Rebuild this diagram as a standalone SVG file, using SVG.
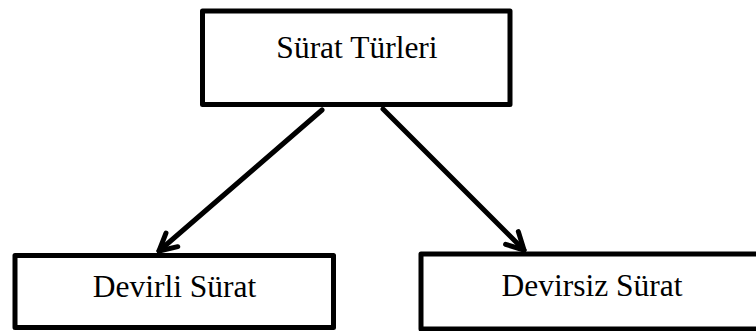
<svg xmlns="http://www.w3.org/2000/svg" width="756" height="331" viewBox="0 0 756 331">
  <defs>
    <style>
      .box { fill: #ffffff; stroke: #000000; stroke-width: 5; stroke-linejoin: round; }
      .lbl { font-family: "Liberation Serif", "Times New Roman", serif; font-size: 31.5px; fill: #000000; text-anchor: middle; }
      .conn { fill: none; stroke: #000000; stroke-width: 5; stroke-linecap: round; }
    </style>
    <marker id="arrow" markerUnits="userSpaceOnUse" viewBox="-22 -12 26 24" refX="0" refY="0" markerWidth="26" markerHeight="24" orient="auto">
      <path d="M-17,-9 L0,0 L-17,9" fill="none" stroke="#000000" stroke-width="5" stroke-linecap="round" stroke-linejoin="round"/>
    </marker>
  </defs>
  <rect width="756" height="331" fill="#ffffff"/>
  <g id="connectors">
    <line class="conn" x1="322" y1="110" x2="159" y2="251" marker-end="url(#arrow)"/>
    <line class="conn" x1="383" y1="109" x2="524" y2="250" marker-end="url(#arrow)"/>
  </g>
  <g id="node-surat-turleri">
    <rect class="box" x="202.5" y="11" width="307.5" height="93.5"/>
    <text class="lbl" x="357" y="58">Sürat Türleri</text>
  </g>
  <g id="node-devirli-surat">
    <rect class="box" x="15" y="255.5" width="318.5" height="72"/>
    <text class="lbl" x="174.5" y="296.5">Devirli Sürat</text>
  </g>
  <g id="node-devirsiz-surat">
    <rect class="box" x="421" y="254" width="350" height="75"/>
    <text class="lbl" x="592" y="295.5">Devirsiz Sürat</text>
  </g>
</svg>
